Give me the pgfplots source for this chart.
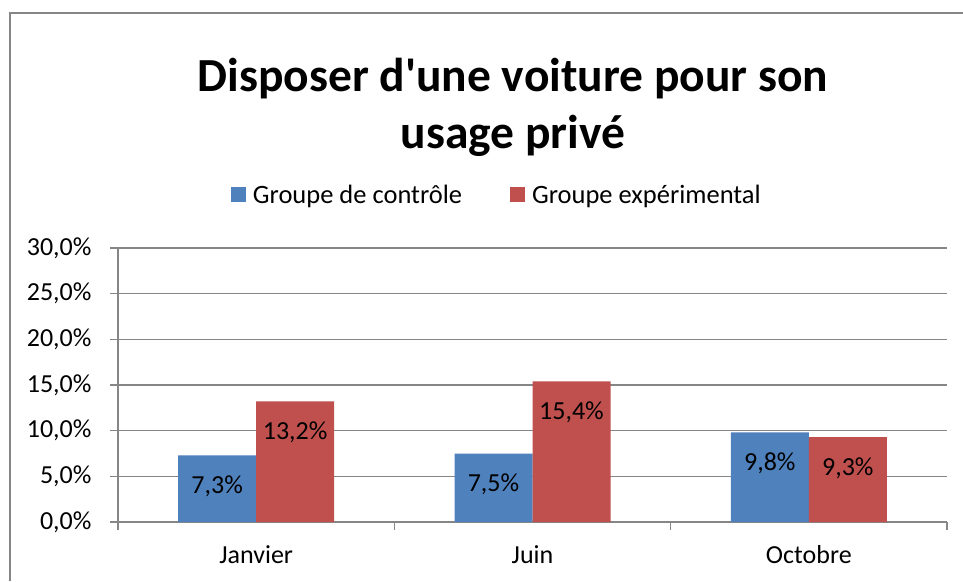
\documentclass[border=0pt]{standalone}
\usepackage{fontspec}
\setmainfont{Carlito}[Ligatures=TeXOff]
\usepackage{pgfplots}
\pgfplotsset{compat=1.18}
\definecolor{xlblue}{HTML}{4F81BD}
\definecolor{xlred}{HTML}{C0504D}
\definecolor{xlgrid}{HTML}{868686}
\newcommand\lblfont{\fontsize{26}{30}\selectfont}
\begin{document}
\begin{tikzpicture}
\useasboundingbox (0pt,0pt) rectangle (963pt,581pt);
\fill[white] (0pt,0pt) rectangle (963pt,581pt);
\draw[xlgrid, line width=1.3pt] (10pt,0pt) -- (10pt,568pt) -- (963pt,568pt);
\node[font=\fontsize{47.5}{57}\selectfont\bfseries, align=center] at (513pt,474pt)
  {Disposer d'une voiture pour son\\usage privé};
\begin{axis}[
  at={(118pt,59pt)}, anchor=south west,
  scale only axis, width=829pt, height=274pt,
  ybar=0pt, bar width=78pt,
  xmin=-0.5, xmax=2.5, ymin=0, ymax=30,
  xtick={-0.5,0.5,1.5,2.5}, xticklabels={},
  extra x ticks={0,1,2}, extra x tick labels={Janvier,Juin,Octobre},
  extra x tick style={major tick length=0pt, grid=none},
  ytick={0,5,...,30},
  yticklabels={{0,0\%},{5,0\%},{10,0\%},{15,0\%},{20,0\%},{25,0\%},{30,0\%}},
  ymajorgrids, grid style={xlgrid, line width=1.3pt},
  axis x line*=bottom, axis y line*=left,
  axis line style={xlgrid, line width=1.3pt, -},
  tick align=outside, major tick length=8pt,
  tick style={xlgrid, line width=1.3pt},
  ticklabel style={font=\lblfont, text=black},
  yticklabel style={xshift=-15pt},
  xticklabel style={yshift=-20pt},
  point meta=explicit symbolic,
  nodes near coords,
  every node near coord/.append style={font=\lblfont, text=black, anchor=center, yshift=-31pt},
  legend image code/.code={\fill[#1] (0pt,-7.5pt) rectangle (15pt,7.5pt);},
  legend columns=2,
  legend style={at={(0.457,1.195)}, anchor=center, draw=none,
    font=\fontsize{26.5}{30}\selectfont,
    /tikz/every odd column/.append style={column sep=5pt},
    /tikz/every even column/.append style={column sep=46pt}},
]
\addplot[fill=xlblue, draw=none] coordinates {(0,7.3) [{7,3\%}] (1,7.5) [{7,5\%}] (2,9.8) [{9,8\%}]};
\addplot[fill=xlred, draw=none] coordinates {(0,13.2) [{13,2\%}] (1,15.4) [{15,4\%}] (2,9.3) [{9,3\%}]};
\legend{Groupe de contrôle, Groupe expérimental}
\end{axis}
\end{tikzpicture}
\end{document}
